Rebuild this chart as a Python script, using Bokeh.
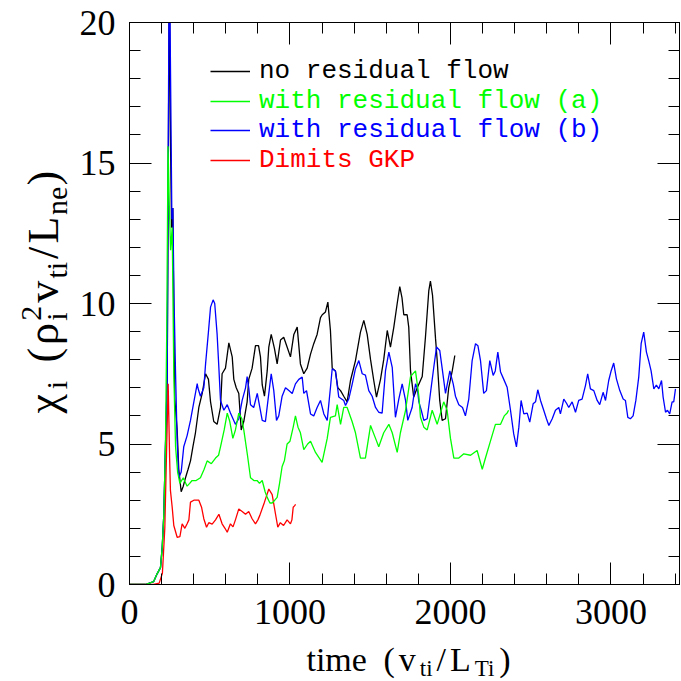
import math
from bokeh.plotting import figure
from bokeh.models import (LinearAxis, SingleIntervalTicker, Range1d, Legend,
                          LegendItem, CustomJSTickFormatter)
from bokeh.layouts import row, column
from bokeh.core.properties import value
from bokeh.embed import file_html
from bokeh.resources import INLINE

# ---------------- data ----------------
black_t = [0, 100, 150, 172, 193, 204, 214, 224, 235, 241,
           248, 255, 262, 270, 276, 282, 297, 307, 322, 335,
           349, 365, 380, 395, 411, 432, 453, 474, 492, 505,
           525, 546, 567, 577, 598, 619, 640, 650, 665, 681,
           696, 712, 733, 743, 764, 785, 804, 816, 827, 841,
           858, 868, 883, 903, 920, 941, 961, 982, 1003, 1024,
           1045, 1065, 1086, 1107, 1128, 1148, 1169, 1190, 1201, 1221,
           1236, 1252, 1263, 1283, 1298, 1315, 1335, 1356, 1377, 1408,
           1439, 1460, 1481, 1502, 1522, 1539, 1564, 1584, 1606, 1626,
           1647, 1668, 1684, 1698, 1709, 1730, 1740, 1751, 1771, 1793,
           1824, 1844, 1865, 1875, 1888, 1907, 1917, 1933, 1948, 1969,
           1989, 2011, 2027]
black_y = [0, 0, 0.1, 0.38, 0.6, 1.33, 2.5, 4.9, 7.3, 14,
           22, 16, 12.7, 13.4, 9.5, 6.6, 5.5, 4.1, 3.3, 3.5,
           3.8, 4.1, 4.4, 4.9, 5.4, 6.3, 6.8, 7.5, 7.3, 6.5,
           5.8, 5.7, 6.3, 7.5, 7.7, 8.6, 8.1, 7.3, 7.0, 6.8,
           5.5, 5.8, 6.5, 7.3, 7.7, 8.5, 8.5, 8.1, 7.1, 6.7,
           7.6, 8.45, 8.9, 8.4, 7.85, 8.7, 8.8, 8.45, 8.1, 8.9,
           9.16, 7.85, 7.5, 7.7, 8.2, 8.57, 8.9, 9.5, 9.6, 9.7,
           10.05, 9.04, 7.7, 7.6, 7.0, 6.9, 6.7, 6.5, 7.26, 7.97,
           8.98, 9.4, 8.9, 8.0, 7.26, 6.67, 7.3, 8.0, 9.04, 8.45,
           9.16, 10.0, 10.6, 10.2, 9.6, 9.6, 9.16, 7.6, 6.67, 7.0,
           7.4, 8.8, 10.46, 10.8, 10.3, 8.74, 8.0, 6.55, 5.84, 5.9,
           7.0, 7.6, 8.15]

green_t = [0, 100, 150, 172, 193, 204, 214, 224, 232, 240,
           248, 256, 266, 276, 287, 300, 314, 335, 359, 375,
           390, 415, 442, 465, 484, 510, 536, 555, 567, 590,
           609, 625, 644, 660, 681, 700, 712, 735, 754, 775,
           795, 810, 827, 845, 858, 875, 889, 905, 920, 935,
           951, 965, 982, 1000, 1020, 1034, 1050, 1065, 1086, 1110,
           1128, 1159, 1200, 1232, 1252, 1283, 1294, 1315, 1335, 1356,
           1387, 1408, 1439, 1470, 1502, 1533, 1553, 1584, 1616, 1637,
           1668, 1688, 1720, 1751, 1782, 1803, 1813, 1834, 1855, 1886,
           1917, 1958, 1979, 2000, 2021, 2052, 2083, 2125, 2166, 2198,
           2218, 2249, 2280, 2312, 2335, 2353, 2362]
green_y = [0, 0, 0.1, 0.38, 0.6, 1.33, 2.5, 4.9, 9, 15.6,
           13.5, 11.9, 12.7, 7.5, 4.9, 4.0, 3.6, 3.8, 3.5, 3.6,
           3.7, 3.7, 3.8, 4.1, 4.4, 4.3, 4.5, 4.6, 4.9, 5.5,
           6.1, 5.8, 5.2, 5.5, 6.1, 5.9, 5.5, 4.6, 3.8, 3.7,
           3.7, 3.6, 3.7, 3.3, 3.1, 2.9, 2.9, 3.0, 3.1, 3.6,
           4.2, 4.4, 5.0, 5.1, 5.6, 6.0, 5.6, 5.4, 4.8, 5.0,
           5.1, 4.7, 4.35, 5.2, 5.95, 6.0, 6.4, 5.7, 6.3, 6.3,
           5.8, 5.4, 4.5, 4.5, 5.66, 5.2, 4.9, 5.4, 5.7, 5.4,
           4.7, 5.4, 6.2, 7.4, 7.6, 6.7, 5.95, 5.6, 5.5, 6.2,
           5.7, 6.5, 6.2, 5.2, 4.5, 4.5, 4.65, 4.6, 4.77, 4.1,
           4.5, 5.1, 5.7, 5.7, 6.0, 6.1, 6.2]

blue_t = [0, 100, 150, 172, 193, 204, 214, 224, 235, 241,
          248, 256, 264, 270, 278, 287, 297, 307, 322, 338,
          359, 380, 401, 422, 426, 442, 463, 474, 492, 505,
          521, 531, 546, 557, 567, 588, 609, 629, 660, 681,
          702, 723, 733, 743, 754, 774, 796, 827, 847, 868,
          883, 899, 916, 930, 951, 972, 993, 1014, 1034, 1055,
          1076, 1086, 1103, 1128, 1148, 1169, 1190, 1211, 1232, 1252,
          1263, 1283, 1304, 1335, 1346, 1366, 1388, 1408, 1429, 1450,
          1470, 1491, 1512, 1533, 1553, 1574, 1595, 1616, 1637, 1657,
          1678, 1699, 1720, 1734, 1761, 1782, 1793, 1803, 1818, 1834,
          1855, 1875, 1896, 1913, 1933, 1948, 1969, 1996, 2017, 2031,
          2052, 2075, 2093, 2114, 2135, 2156, 2171, 2187, 2207, 2224,
          2245, 2266, 2279, 2295, 2312, 2332, 2353, 2374, 2394, 2411,
          2426, 2440, 2457, 2478, 2494, 2515, 2530, 2544, 2561, 2581,
          2598, 2613, 2634, 2654, 2675, 2685, 2706, 2723, 2737, 2758,
          2779, 2799, 2820, 2841, 2855, 2872, 2893, 2914, 2930, 2951,
          2966, 2986, 3001, 3017, 3034, 3055, 3076, 3090, 3105, 3121,
          3138, 3155, 3173, 3188, 3204, 3221, 3235, 3250, 3267, 3283,
          3298, 3315, 3325, 3340, 3352, 3366, 3381, 3391, 3402]
blue_y = [0, 0, 0.1, 0.38, 0.6, 1.33, 2.5, 4.9, 7.3, 15,
          23, 18, 13.0, 13.4, 10, 7.5, 5.1, 3.8, 4.0, 4.9,
          5.3, 5.84, 6.5, 7.15, 7.0, 6.7, 7.0, 7.85, 9.0, 9.87,
          10.13, 10.0, 8.9, 7.7, 6.55, 6.2, 6.4, 6.1, 5.7, 5.9,
          6.55, 7.0, 7.4, 7.0, 6.4, 6.3, 6.8, 5.84, 5.8, 6.8,
          7.5, 6.9, 5.84, 6.0, 6.7, 7.0, 6.9, 6.8, 7.14, 7.3,
          7.38, 6.8, 6.9, 6.07, 6.0, 6.3, 6.55, 6.07, 5.84, 7.0,
          7.68, 7.6, 6.67, 6.55, 6.37, 6.6, 7.14, 7.68, 7.97, 7.5,
          7.45, 6.9, 6.7, 6.3, 6.13, 6.1, 7.6, 8.27, 7.73, 5.95,
          6.6, 7.14, 6.55, 5.84, 6.3, 7.14, 7.0, 6.5, 6.2, 5.84,
          5.9, 6.8, 7.73, 8.45, 8.33, 7.7, 6.8, 7.6, 7.14, 6.7,
          6.4, 6.3, 6.0, 6.6, 7.97, 8.57, 8.5, 7.97, 6.8, 6.9,
          7.97, 7.44, 7.6, 8.27, 7.56, 7.3, 7.02, 6.2, 5.36, 4.9,
          5.6, 6.55, 6.07, 6.1, 5.78, 6.43, 6.5, 6.93, 6.55, 6.2,
          5.9, 5.66, 5.9, 6.2, 6.3, 6.07, 6.6, 6.45, 6.3, 6.5,
          6.13, 6.55, 6.6, 7.08, 7.5, 6.96, 6.9, 6.55, 6.4, 6.84,
          6.55, 7.26, 7.6, 7.88, 7.32, 6.9, 6.6, 6.55, 5.95, 5.9,
          6.0, 6.55, 7.38, 8.57, 8.98, 8.27, 7.97, 7.6, 6.96, 7.1,
          6.96, 7.26, 6.67, 6.13, 6.2, 6.07, 6.5, 6.5, 6.96]

red_t = [0, 150, 185, 205, 220, 232, 241, 250, 255, 266,
         276, 297, 314, 328, 345, 359, 370, 380, 401, 432,
         449, 463, 480, 494, 515, 536, 557, 577, 595, 609,
         629, 645, 660, 681, 702, 723, 743, 764, 785, 800,
         812, 841, 868, 889, 910, 924, 940, 960, 982, 1003,
         1012, 1020, 1028, 1035]
red_y = [0, 0, 0.05, 0.4, 2, 5, 7.14, 4.5, 3.35, 2.75,
         2.1, 1.68, 1.7, 2.16, 2.0, 2.16, 2.3, 2.93, 3.0, 3.0,
         2.75, 2.34, 2.04, 2.2, 2.15, 2.3, 2.5, 2.16, 2.0, 1.86,
         2.16, 2.05, 2.3, 2.69, 2.6, 2.5, 2.6, 2.34, 2.16, 2.3,
         2.46, 2.93, 3.4, 3.2, 2.5, 2.04, 2.2, 2.1, 2.3, 2.16,
         2.3, 2.75, 2.8, 2.85]

series_labels = ["no residual flow", "with residual flow (a)",
                 "with residual flow (b)", "Dimits GKP"]
series_colors = ["#000000", "#00ff00", "#0000ff", "#ff0000"]

x_major = 1000
y_major = 5
x_lo, x_hi = 0, 3427
y_lo, y_hi = 0, 20

# ---------------- layout ----------------
PAGE = 681
YT_W = 72                 # width of the strip holding the y-axis title
XT_H = 41                 # height of the strip holding the x-axis title
PW, PH = PAGE - YT_W, PAGE - XT_H
BL, BR, BT = 57, 2, 22
FH = 562
BB = PH - BT - FH

SERIF = "Liberation Serif"
p = figure(width=PW, height=PH, x_range=Range1d(x_lo, x_hi), y_range=Range1d(y_lo, y_hi),
           output_backend="svg", toolbar_location=None, title=None,
           x_axis_type=None, y_axis_type=None,
           min_border_left=BL, min_border_right=BR, min_border_top=BT, min_border_bottom=BB)
p.outline_line_color = "black"


def make_axis(interval, show_labels, standoff):
    ax = LinearAxis(ticker=SingleIntervalTicker(interval=interval, num_minor_ticks=5))
    ax.axis_line_color = "black"
    ax.major_tick_line_color = "black"
    ax.minor_tick_line_color = "black"
    ax.major_tick_in = 22
    ax.major_tick_out = 0
    ax.minor_tick_in = 11
    ax.minor_tick_out = 0
    if show_labels:
        ax.major_label_text_font = SERIF
        ax.major_label_text_font_size = "36px"
        ax.major_label_text_color = "black"
        ax.major_label_standoff = standoff
    else:
        ax.formatter = CustomJSTickFormatter(code="return ''")
        ax.major_label_text_font_size = "0px"
        ax.major_label_standoff = 0
    return ax


p.add_layout(make_axis(x_major, True, 15), "below")
p.add_layout(make_axis(y_major, True, 14), "left")
p.add_layout(make_axis(x_major, False, 0), "above")
p.add_layout(make_axis(y_major, False, 0), "right")

# ---------------- lines ----------------
r_black = p.line(black_t, black_y, line_color=series_colors[0], line_width=1.3)
r_blue = p.line(blue_t, blue_y, line_color=series_colors[2], line_width=1.3)
r_red = p.line(red_t, red_y, line_color=series_colors[3], line_width=1.3)
r_green = p.line(green_t, green_y, line_color=series_colors[1], line_width=1.3)
renderers = [r_black, r_green, r_blue, r_red]

# ---------------- legend (one per entry so each label keeps its own colour) ----------------
ITEM_H = 40
for k, (lab, col, rend) in enumerate(zip(series_labels, series_colors, renderers)):
    cy = 49 + 29.5 * k          # item centre, px below the frame top
    leg = Legend(items=[LegendItem(label=lab, renderers=[rend])],
                 location=(81, FH - cy - ITEM_H / 2),
                 glyph_width=40, glyph_height=ITEM_H, label_height=ITEM_H,
                 label_standoff=9, padding=0, margin=0, spacing=0,
                 border_line_alpha=0, background_fill_alpha=0,
                 label_text_font="Liberation Mono", label_text_font_size="26px",
                 label_text_color=col)
    p.add_layout(leg)

# ---------------- axis titles (sub/superscripts placed piece by piece) ----------------
WID = {'t': .278, 'i': .278, 'm': .778, 'e': .444, ' ': .25, '(': .333, ')': .333,
       'v': .5, '/': .278, 'L': .611, 'T': .611, 'n': .5, '2': .5, 'χ': .5, 'ρ': .5}
MID = 0.3375      # distance from the alphabetic baseline to the text's vertical middle, in em


def tw(s, size):
    return sum(WID.get(c, .5) for c in s) * size


def strip(w, h):
    f = figure(width=w, height=h, x_range=Range1d(0, w), y_range=Range1d(0, h),
               output_backend="svg", toolbar_location=None, title=None,
               x_axis_type=None, y_axis_type=None, min_border=0)
    f.outline_line_color = None
    return f


def natural(pieces, gap):
    adv = [tw(s, sz) for s, sz, sh, a in pieces if a]
    return sum(adv) + gap * (len(adv) - 1)


def draw_pieces(f, pieces, start, base, along_x, gap):
    """pieces: (text, size, shift_px, advances); shift>0 puts the piece below the baseline.
    Pieces are anchored at their vertical middle."""
    groups = {}
    pos = start
    for s, sz, sh, adv in pieces:
        off = sh - MID * sz      # middle of the piece, relative to the main baseline
        if along_x:
            x, y = pos, base - off
        else:
            x, y = base + off, pos
        if s.strip():
            gx, gy, gt = groups.setdefault(sz, ([], [], []))
            gx.append(x); gy.append(y); gt.append(s)
        if adv:
            pos += tw(s, sz) + gap
    for sz, (gx, gy, gt) in groups.items():
        f.text(x=gx, y=gy, text=gt, text_font=value(SERIF), text_font_size=value(f"{sz}px"),
               text_color="black", text_align="left", text_baseline="middle",
               angle=0 if along_x else math.pi / 2)


# x title: time (v_ti/L_Ti)
XM, XS = 34, 23
x_pieces = [("time", XM, 0, True), (" ", XM, 0, True), ("(", XM, 0, True), ("v", XM, 0, True),
            ("ti", XS, 5, True), ("/", XM, 0, True), ("L", XM, 0, True), ("Ti", XS, 5, True),
            (")", XM, 0, True)]
x_gap = 4
x_len = natural(x_pieces, x_gap)
xt = strip(PAGE, XT_H)
x_baseline_page = 670.5
draw_pieces(xt, x_pieces, start=408 - x_len / 2, base=PAGE - x_baseline_page,
            along_x=True, gap=x_gap)

# y title: chi_i (rho_i^2 v_ti/L_ne), read bottom to top
YM, YS = 44, 30
y_pieces = [("χ", YM, 0, True), ("i", YS, 8, True), (" ", YM, 0, True), ("(", YM, 0, True),
            ("ρ", YM, 0, True), ("i", YS, 8, False), ("2", YS, -17, True), ("v", YM, 0, True),
            ("ti", YS, 8, True), ("/", YM, 0, True), ("L", YM, 0, True), ("ne", YS, 8, True),
            (")", YM, 0, True)]
y_gap = 5.5
y_len = natural(y_pieces, y_gap)
yt = strip(YT_W, PH)
y_center_page = 308
draw_pieces(yt, y_pieces, start=(PH - y_center_page) - y_len / 2, base=58,
            along_x=False, gap=y_gap)

layout = column(row(yt, p), xt)
html = file_html(layout, INLINE)
with open("out.html", "w") as f:
    f.write(html)
